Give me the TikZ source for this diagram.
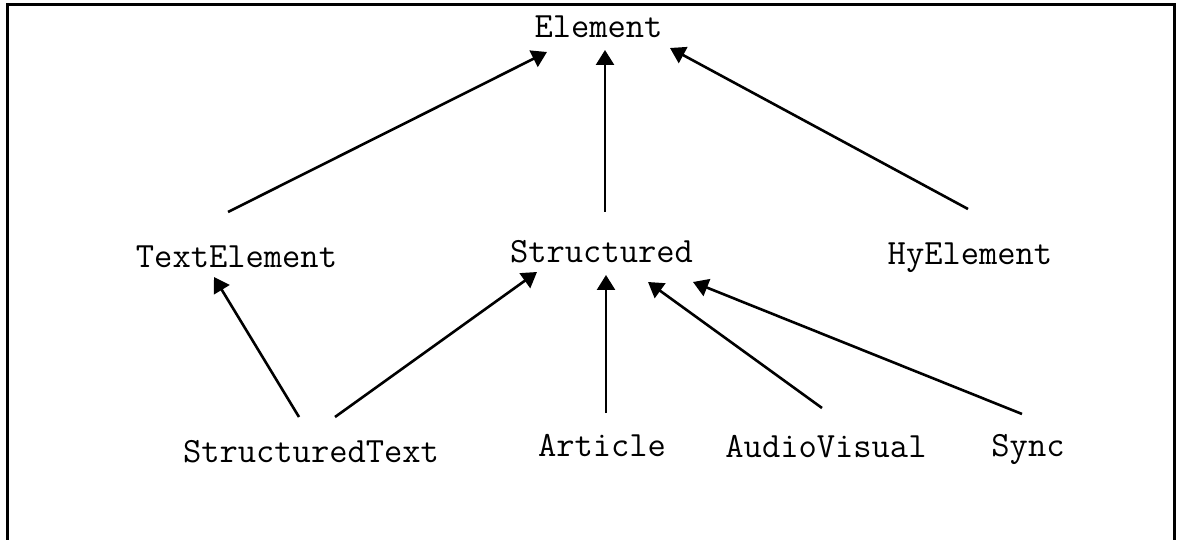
\documentclass[tikz,border=0pt]{standalone}
\usepackage{fontspec}
\usetikzlibrary{arrows.meta}

\tikzset{
  cls/.style={font=\ttfamily\fontsize{35.5}{40}\selectfont, inner sep=0pt, anchor=base},
  inh/.style={line width=2.6pt, -{Triangle[length=15pt,width=18pt]}},
  frame/.style={line width=3pt}
}

\begin{document}
\begin{tikzpicture}[x=1pt, y=-1pt]
  \useasboundingbox (0,0) rectangle (1184,540);
  \draw[frame] (7.5,4.5) rectangle (1174,541);

  % class names
  \node[cls] (element)    at (598.5,38)  {Element};
  \node[cls] (textel)     at (236.5,268) {TextElement};
  \node[cls] (structured) at (601.5,262) {Structured};
  \node[cls] (hyel)       at (970,265)   {HyElement};
  \node[cls] (stext)      at (311,462)   {StructuredText};
  \node[cls] (article)    at (602,456)   {Article};
  \node[cls] (audiov)     at (826,457)   {AudioVisual};
  \node[cls] (sync)       at (1028,456)  {Sync};

  % inheritance arrows, child -> parent
  \draw[inh] ([shift={(-8.5,-56)}]textel.base)   -- ([shift={(-51.5,14)}]element.base);
  \draw[inh] ([shift={(3.5,-50)}]structured.base) -- ([shift={(6.5,12)}]element.base);
  \draw[inh] ([shift={(-2,-56)}]hyel.base)        -- ([shift={(71.5,10)}]element.base);
  \draw[inh] ([shift={(-12,-45)}]stext.base)      -- ([shift={(-22.5,9)}]textel.base);
  \draw[inh] ([shift={(24,-45)}]stext.base)       -- ([shift={(-64.5,10)}]structured.base);
  \draw[inh] ([shift={(4,-43)}]article.base)      -- ([shift={(4.5,13)}]structured.base);
  \draw[inh] ([shift={(-4,-49)}]audiov.base)      -- ([shift={(46.5,20)}]structured.base);
  \draw[inh] ([shift={(-6,-42)}]sync.base)        -- ([shift={(91.5,20)}]structured.base);
\end{tikzpicture}
\end{document}
